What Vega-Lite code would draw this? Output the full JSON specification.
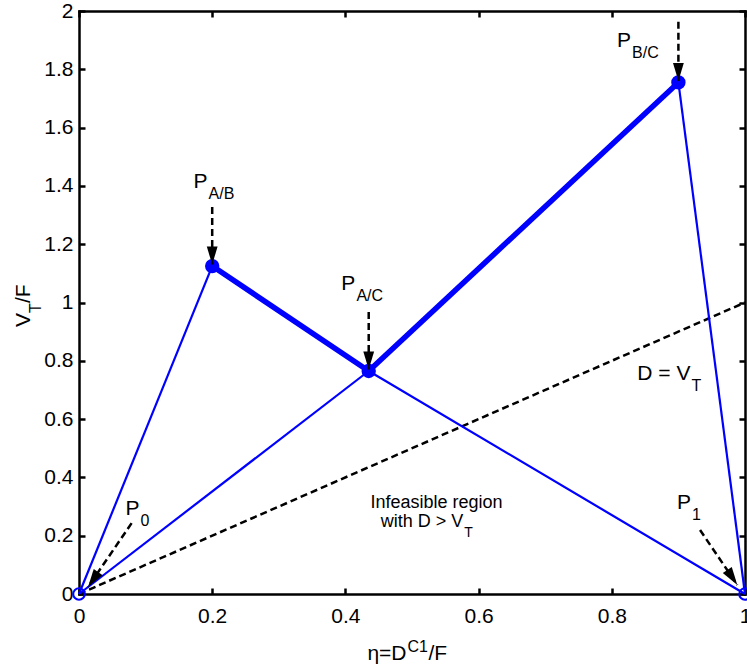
{
  "$schema": "https://vega.github.io/schema/vega-lite/v6.json",
  "width": 666,
  "height": 583,
  "autosize": {"type": "none"},
  "padding": {"left": 79, "top": 11, "right": 2, "bottom": 74},
  "background": "white",
  "config": {"view": {"stroke": null}, "font": "Liberation Sans"},
  "datasets": {
    "diag": [{"x": 0, "y": 0, "x2": 1, "y2": 1}],
    "thin": [
      {"x": 0, "y": 0, "x2": 0.2, "y2": 1.125},
      {"x": 0, "y": 0, "x2": 0.435, "y2": 0.765},
      {"x": 0.435, "y": 0.765, "x2": 1, "y2": 0},
      {"x": 0.9, "y": 1.755, "x2": 1, "y2": 0}
    ],
    "thick": [
      {"x": 0.2, "y": 1.125, "x2": 0.435, "y2": 0.765},
      {"x": 0.435, "y": 0.765, "x2": 0.9, "y2": 1.755}
    ],
    "ends": [{"x": 0, "y": 0}, {"x": 1, "y": 0}],
    "vertices": [{"x": 0.2, "y": 1.125}, {"x": 0.435, "y": 0.765}, {"x": 0.9, "y": 1.755}],
    "arrows": [
      {"label": "A/B", "fromX": 0.2, "fromY": 1.328, "tipX": 0.2, "tipY": 1.13},
      {"label": "A/C", "fromX": 0.435, "fromY": 0.967, "tipX": 0.435, "tipY": 0.77},
      {"label": "B/C", "fromX": 0.9, "fromY": 1.963, "tipX": 0.9, "tipY": 1.76},
      {"label": "0", "fromX": 0.079, "fromY": 0.243, "tipX": 0.0135, "tipY": 0.024},
      {"label": "1", "fromX": 0.9325, "fromY": 0.2195, "tipX": 0.9885, "tipY": 0.031}
    ],
    "labels": [
      {"x": 0.193, "y": 1.392, "text": "P", "sub": "A/B"},
      {"x": 0.415, "y": 1.043, "text": "P", "sub": "A/C"},
      {"x": 0.829, "y": 1.878, "text": "P", "sub": "B/C"},
      {"x": 0.0907, "y": 0.271, "text": "P", "sub": "0"},
      {"x": 0.919, "y": 0.2916, "text": "P", "sub": "1"},
      {"x": 0.918, "y": 0.734, "text": "D = V", "sub": "T"}
    ],
    "note": [
      {"x": 0.636, "y": 0.295, "text": "Infeasible region", "sub": ""},
      {"x": 0.577, "y": 0.229, "text": "with D > V", "sub": "T"}
    ],
    "xtitle": [{"x": 0.4918, "y": -0.2264, "text": "η=D", "sup": "C1", "tail": "/F"}],
    "ytitle": [{"x": -0.0735, "y": 0.964, "text": "V", "sub": "T", "tail": "/F"}]
  },
  "layer": [
    {
      "data": {"name": "diag"},
      "mark": {"type": "rule", "color": "black", "strokeWidth": 2.5, "strokeDash": [7, 4]},
      "encoding": {
        "x": {"field": "x", "type": "quantitative", "scale": {"domain": [0, 1], "nice": false, "zero": false},
          "axis": {"orient": "bottom", "values": [0, 0.2, 0.4, 0.6, 0.8, 1], "format": "~g", "title": null, "grid": false,
            "domainColor": "black", "domainWidth": 2.5, "domainCap": "square", "tickColor": "black", "tickWidth": 2.5, "tickSize": -6,
            "labelFontSize": 21, "labelFont": "Liberation Sans", "labelColor": "black", "labelPadding": 17, "labelFlush": false, "labelOverlap": false, "labelBound": false}},
        "y": {"field": "y", "type": "quantitative", "scale": {"domain": [0, 2], "nice": false, "zero": false},
          "axis": {"orient": "left", "values": [0, 0.2, 0.4, 0.6, 0.8, 1, 1.2, 1.4, 1.6, 1.8, 2], "format": "~g", "title": null, "grid": false,
            "domainColor": "black", "domainWidth": 2.5, "domainCap": "square", "tickColor": "black", "tickWidth": 2.5, "tickSize": -6,
            "labelFontSize": 21, "labelFont": "Liberation Sans", "labelColor": "black", "labelPadding": 12, "labelFlush": false, "labelOverlap": false, "labelBound": false}},
        "x2": {"field": "x2"},
        "y2": {"field": "y2"}
      }
    },
    {
      "data": {"name": "thin"},
      "mark": {"type": "rule", "color": "#0000ff", "strokeWidth": 2.2},
      "encoding": {
        "x": {"field": "x", "type": "quantitative",
          "axis": {"orient": "top", "values": [0, 0.2, 0.4, 0.6, 0.8, 1], "labels": false, "title": null, "grid": false,
            "domainColor": "black", "domainWidth": 2.5, "domainCap": "square", "tickColor": "black", "tickWidth": 2.5, "tickSize": -6}},
        "y": {"field": "y", "type": "quantitative",
          "axis": {"orient": "right", "values": [0, 0.2, 0.4, 0.6, 0.8, 1, 1.2, 1.4, 1.6, 1.8, 2], "labels": false, "title": null, "grid": false,
            "domainColor": "black", "domainWidth": 2.5, "domainCap": "square", "tickColor": "black", "tickWidth": 2.5, "tickSize": -6}},
        "x2": {"field": "x2"},
        "y2": {"field": "y2"}
      }
    },
    {
      "data": {"name": "thick"},
      "mark": {"type": "rule", "color": "#0000ff", "strokeWidth": 5.5, "strokeCap": "round"},
      "encoding": {
        "x": {"field": "x", "type": "quantitative", "axis": null},
        "y": {"field": "y", "type": "quantitative", "axis": null},
        "x2": {"field": "x2"},
        "y2": {"field": "y2"}
      }
    },
    {
      "data": {"name": "ends"},
      "mark": {"type": "point", "shape": "circle", "filled": false, "color": "#0000ff", "strokeWidth": 2, "size": 133, "opacity": 1},
      "encoding": {
        "x": {"field": "x", "type": "quantitative", "axis": null},
        "y": {"field": "y", "type": "quantitative", "axis": null}
      }
    },
    {
      "data": {"name": "vertices"},
      "mark": {"type": "point", "shape": "circle", "filled": false, "color": "#0000ff", "strokeWidth": 6, "size": 70, "opacity": 1},
      "encoding": {
        "x": {"field": "x", "type": "quantitative", "axis": null},
        "y": {"field": "y", "type": "quantitative", "axis": null}
      }
    },
    {
      "data": {"name": "arrows"},
      "mark": {"type": "rule", "color": "black", "strokeWidth": 2.5, "strokeDash": [7, 4]},
      "encoding": {
        "x": {"field": "fromX", "type": "quantitative", "axis": null},
        "y": {"field": "fromY", "type": "quantitative", "axis": null},
        "x2": {"field": "tipX"},
        "y2": {"field": "tipY"}
      }
    },
    {
      "data": {"name": "arrows"},
      "transform": [{"filter": "datum.label == 'A/B' || datum.label == 'A/C' || datum.label == 'B/C'"}],
      "mark": {"type": "point", "shape": "M0,0L-0.3,-1L0.3,-1Z", "filled": true, "color": "black", "strokeWidth": 0, "size": 1296, "opacity": 1},
      "encoding": {
        "x": {"field": "tipX", "type": "quantitative", "axis": null},
        "y": {"field": "tipY", "type": "quantitative", "axis": null}
      }
    },
    {
      "data": {"name": "arrows"},
      "transform": [{"filter": "datum.label == '0'"}],
      "mark": {"type": "point", "shape": "M0,0L-0.3,-1L0.3,-1Z", "filled": true, "color": "black", "strokeWidth": 0, "size": 1296, "opacity": 1, "angle": 34.5},
      "encoding": {
        "x": {"field": "tipX", "type": "quantitative", "axis": null},
        "y": {"field": "tipY", "type": "quantitative", "axis": null}
      }
    },
    {
      "data": {"name": "arrows"},
      "transform": [{"filter": "datum.label == '1'"}],
      "mark": {"type": "point", "shape": "M0,0L-0.3,-1L0.3,-1Z", "filled": true, "color": "black", "strokeWidth": 0, "size": 1296, "opacity": 1, "angle": 326},
      "encoding": {
        "x": {"field": "tipX", "type": "quantitative", "axis": null},
        "y": {"field": "tipY", "type": "quantitative", "axis": null}
      }
    },
    {
      "data": {"name": "labels"},
      "mark": {"type": "text", "align": "right", "baseline": "alphabetic", "fontSize": 21, "font": "Liberation Sans", "color": "black"},
      "encoding": {
        "x": {"field": "x", "type": "quantitative", "axis": null},
        "y": {"field": "y", "type": "quantitative", "axis": null},
        "text": {"field": "text"}
      }
    },
    {
      "data": {"name": "labels"},
      "mark": {"type": "text", "align": "left", "baseline": "alphabetic", "fontSize": 16, "font": "Liberation Sans", "color": "black", "dy": 11, "dx": 1},
      "encoding": {
        "x": {"field": "x", "type": "quantitative", "axis": null},
        "y": {"field": "y", "type": "quantitative", "axis": null},
        "text": {"field": "sub"}
      }
    },
    {
      "data": {"name": "note"},
      "mark": {"type": "text", "align": "right", "baseline": "alphabetic", "fontSize": 18, "font": "Liberation Sans", "color": "black"},
      "encoding": {
        "x": {"field": "x", "type": "quantitative", "axis": null},
        "y": {"field": "y", "type": "quantitative", "axis": null},
        "text": {"field": "text"}
      }
    },
    {
      "data": {"name": "note"},
      "mark": {"type": "text", "align": "left", "baseline": "alphabetic", "fontSize": 14, "font": "Liberation Sans", "color": "black", "dy": 10, "dx": 1},
      "encoding": {
        "x": {"field": "x", "type": "quantitative", "axis": null},
        "y": {"field": "y", "type": "quantitative", "axis": null},
        "text": {"field": "sub"}
      }
    },
    {
      "data": {"name": "xtitle"},
      "mark": {"type": "text", "align": "right", "baseline": "alphabetic", "fontSize": 21, "font": "Liberation Sans", "color": "black"},
      "encoding": {
        "x": {"field": "x", "type": "quantitative", "axis": null},
        "y": {"field": "y", "type": "quantitative", "axis": null},
        "text": {"field": "text"}
      }
    },
    {
      "data": {"name": "xtitle"},
      "mark": {"type": "text", "align": "left", "baseline": "alphabetic", "fontSize": 16, "font": "Liberation Sans", "color": "black", "dy": -8, "dx": 1},
      "encoding": {
        "x": {"field": "x", "type": "quantitative", "axis": null},
        "y": {"field": "y", "type": "quantitative", "axis": null},
        "text": {"field": "sup"}
      }
    },
    {
      "data": {"name": "xtitle"},
      "mark": {"type": "text", "align": "left", "baseline": "alphabetic", "fontSize": 21, "font": "Liberation Sans", "color": "black", "dx": 22},
      "encoding": {
        "x": {"field": "x", "type": "quantitative", "axis": null},
        "y": {"field": "y", "type": "quantitative", "axis": null},
        "text": {"field": "tail"}
      }
    },
    {
      "data": {"name": "ytitle"},
      "mark": {"type": "text", "align": "right", "baseline": "alphabetic", "fontSize": 21, "font": "Liberation Sans", "color": "black", "angle": 270},
      "encoding": {
        "x": {"field": "x", "type": "quantitative", "axis": null},
        "y": {"field": "y", "type": "quantitative", "axis": null},
        "text": {"field": "text"}
      }
    },
    {
      "data": {"name": "ytitle"},
      "mark": {"type": "text", "align": "left", "baseline": "alphabetic", "fontSize": 16, "font": "Liberation Sans", "color": "black", "angle": 270, "dy": 11},
      "encoding": {
        "x": {"field": "x", "type": "quantitative", "axis": null},
        "y": {"field": "y", "type": "quantitative", "axis": null},
        "text": {"field": "sub"}
      }
    },
    {
      "data": {"name": "ytitle"},
      "mark": {"type": "text", "align": "left", "baseline": "alphabetic", "fontSize": 21, "font": "Liberation Sans", "color": "black", "angle": 270, "dx": 10},
      "encoding": {
        "x": {"field": "x", "type": "quantitative", "axis": null},
        "y": {"field": "y", "type": "quantitative", "axis": null},
        "text": {"field": "tail"}
      }
    }
  ],
  "resolve": {"axis": {"x": "independent", "y": "independent"}}
}
